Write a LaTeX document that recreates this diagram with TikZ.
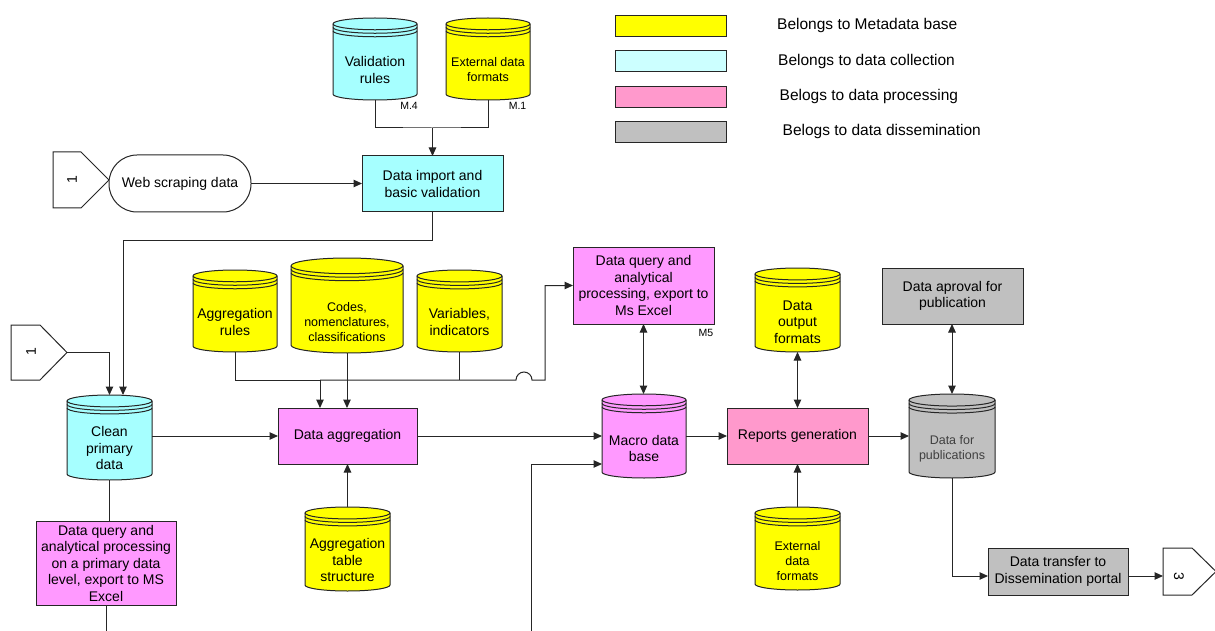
\documentclass[tikz,border=0pt]{standalone}
\usepackage{fontspec}
\setmainfont{Liberation Sans}
\usetikzlibrary{arrows.meta,calc}

\definecolor{metayellow}{HTML}{FFFF00}
\definecolor{collcyan}{HTML}{A6FFFF}
\definecolor{legcyan}{HTML}{CCFFFF}
\definecolor{procmag}{HTML}{FF99FF}
\definecolor{procpink}{HTML}{FF99CC}
\definecolor{dissgray}{HTML}{C0C0C0}

\tikzset{
  f14/.style={font=\fontsize{14}{16.5}\selectfont},
  f125/.style={font=\fontsize{12.5}{14.8}\selectfont},
  flegend/.style={font=\fontsize{15.5}{18}\selectfont},
  fsmall/.style={font=\fontsize{10.5}{12}\selectfont},
  outline/.style={draw=black!85, line width=1pt},
  procbox/.style={outline, rectangle, align=center, inner sep=0pt, outer sep=0pt, f14},
  dbbox/.style={rectangle, inner sep=0pt, outer sep=0pt},
  dbtext/.style={align=center, inner sep=0pt},
  conn/.style={draw=black!85, line width=1pt},
  arr/.style={conn, -{Triangle[length=8.5pt,width=7.5pt]}},
  dblarr/.style={conn, {Triangle[length=8.5pt,width=7.5pt]}-{Triangle[length=8.5pt,width=7.5pt]}},
  legbox/.style={outline, minimum width=111pt, minimum height=21pt, inner sep=0pt, outer sep=0pt},
  legtext/.style={flegend, anchor=west, inner sep=0pt},
  offpage/.style={outline, fill=white},
  tag/.style={fsmall, inner sep=0pt},
}

% Database drum: name, x, y, width, height, fill, text shift, font style, text
\newcommand\dbnode[9]{%
  \node[dbbox, minimum width=#4pt, minimum height=#5pt] (#1) at (#2,#3) {};
  \filldraw[outline, fill=#6] let \p1=(#1.north west), \p2=(#1.south east),
      \n1={(\x2-\x1)/2}, \n2={0.14*\n1} in
    (\x1,\y1-\n2) -- (\x1,\y2+\n2)
    arc[start angle=180, end angle=360, x radius=\n1, y radius=\n2]
    -- (\x2,\y1-\n2)
    arc[start angle=0, end angle=180, x radius=\n1, y radius=\n2] -- cycle;
  \draw[outline] let \p1=(#1.north west), \p2=(#1.south east),
      \n1={(\x2-\x1)/2}, \n2={0.14*\n1} in
    (\x1,\y1-\n2) arc[start angle=180, end angle=360, x radius=\n1, y radius=\n2]
    (\x1,\y1-\n2-3.5pt) arc[start angle=180, end angle=360, x radius=\n1, y radius=\n2]
    (\x1,\y1-\n2-7pt) arc[start angle=180, end angle=360, x radius=\n1, y radius=\n2];
  \node[dbtext, #8] (#1-label) at ([yshift=#7pt]#1.center) {#9};
}

\begin{document}
\begin{tikzpicture}[x=1pt, y=-1pt]
\useasboundingbox (0,0) rectangle (1215,631);

% ---------- legend ----------
\node[legbox, fill=metayellow] (lg1) at (670.5,26.2) {};
\node[legbox, fill=legcyan]    (lg2) at (670.5,61.4) {};
\node[legbox, fill=procpink]   (lg3) at (670.5,96.7) {};
\node[legbox, fill=dissgray]   (lg4) at (670.5,131.7) {};
\node[legtext] (lg1t) at (777,25)  {Belongs to Metadata base};
\node[legtext] (lg2t) at (778,61)  {Belongs to data collection};
\node[legtext] (lg3t) at (779.5,96.5) {Belogs to data processing};
\node[legtext] (lg4t) at (782.5,131) {Belogs to data dissemination};

% ---------- data collection ----------
\dbnode{valr}{375}{59}{84}{82}{collcyan}{-11}{f14}{Validation\\rules}
\dbnode{extf}{488}{59}{84}{82}{metayellow}{-10.5}{f125}{External data\\formats}
\node[tag] (m4) at (409,105.5) {M.4};
\node[tag] (m1) at (517.5,105.5) {M.1};

\node[procbox, fill=collcyan, minimum width=141pt, minimum height=56pt] (imp) at (432.5,184) {Data import and\\basic validation};

\draw[offpage] (53,152) -- (81,152) -- (109,180) -- (81,208) -- (53,208) -- cycle;
\node[f14, rotate=90, inner sep=0pt] (off1a) at (72,180) {1};
\node[procbox, fill=white, rounded corners=28pt, minimum width=142pt, minimum height=57pt] (ws) at (180,183.5) {Web scraping data};

\draw[offpage] (11,325) -- (40,325) -- (67,352.5) -- (40,380) -- (11,380) -- cycle;
\node[f14, rotate=90, inner sep=0pt] (off1b) at (31,352) {1};
\coordinate (off1b-tip) at (67,352.5);

\dbnode{clean}{109.5}{437.5}{85}{85}{collcyan}{-10.5}{f14}{Clean\\primary\\data}
\node[procbox, fill=procmag, minimum width=140pt, minimum height=84pt] (dq1) at (106,563) {Data query and\\analytical processing\\on a primary data\\level, export to MS\\Excel};

% ---------- metadata feeding the aggregation ----------
\dbnode{agr}{235}{311}{84}{82}{metayellow}{-11}{f14}{Aggregation\\rules}
\dbnode{codes}{347}{305.5}{112}{95}{metayellow}{-16.5}{f125}{Codes,\\nomenclatures,\\classifications}
\dbnode{vars}{459.5}{311}{85}{82}{metayellow}{-11}{f14}{Variables,\\indicators}

\node[procbox, fill=procmag, minimum width=139pt, minimum height=56pt] (agg) at (347.5,436) {Data aggregation};
\dbnode{aggts}{347.5}{549}{85}{84}{metayellow}{-11}{f14}{Aggregation\\table\\structure}

% ---------- processing ----------
\node[procbox, fill=procmag, minimum width=141pt, minimum height=77pt] (dq2) at (643.5,285.5) {Data query and\\analytical\\processing, export to\\Ms Excel};
\node[tag] (m5) at (706,332.5) {M5};
\dbnode{macro}{644}{436}{84}{84}{procmag}{-12.5}{f14}{Macro data\\base}

\node[procbox, fill=procpink, minimum width=141pt, minimum height=56pt] (rep) at (797.5,436) {Reports generation};
\dbnode{dof}{797.5}{310}{85}{84}{metayellow}{-12}{f14}{Data\\output\\formats}
\dbnode{extb}{797.5}{548.5}{85}{83}{metayellow}{-12.5}{f125}{External\\data\\formats}

% ---------- dissemination ----------
\node[procbox, fill=dissgray, minimum width=141pt, minimum height=56pt] (apr) at (952.5,296) {Data aproval for\\publication};
\dbnode{dfp}{952}{436}{86}{84}{dissgray}{-12.5}{f125, text=black!75}{Data for\\publications}
\node[procbox, fill=dissgray, minimum width=140pt, minimum height=47pt] (dtr) at (1058,571.5) {Data transfer to\\Dissemination portal};

\draw[offpage] (1163,548) -- (1192,548) -- (1216,571.5) -- (1192,595) -- (1163,595) -- cycle;
\node[f14, rotate=-90, inner sep=0pt] (off3) at (1179,576) {3};
\coordinate (off3in) at (1163,576);

% ---------- connectors ----------
\coordinate (j1) at (432,128);
\draw[conn] (valr.south) |- (j1) -| (extf.south);
\draw[arr] (imp.north |- j1) -- (imp.north);
\draw[arr] (ws.east) -- (ws.east -| imp.west);

\coordinate (turn1) at (123,240);
\draw[arr] (imp.south) |- (turn1) -- (turn1 |- clean.north);
\draw[arr] (off1b-tip) -| (clean.north);

\draw[arr] (clean.east |- agg.west) -- (agg.west);
\draw[conn] (clean.south) -- (clean.south |- dq1.north);
\coordinate (dq1out) at (106,631);
\draw[conn] (dq1.south) -- (dq1out);

\coordinate (bus1) at (320,380);
\draw[arr] (agr.south) |- (bus1) -- (bus1 |- agg.north);
\draw[arr] (codes.south) -- (codes.south |- agg.north);
\draw[conn] (vars.south) -- (vars.south |- bus1);
\draw[arr] (bus1) -- (516,380) arc[start angle=180, end angle=0, radius=8pt] -- (545,380) |- (dq2.west);
\draw[arr] (aggts.north) -- (aggts.north |- agg.south);

\draw[dblarr] (dq2.south) -- (dq2.south |- macro.north);
\draw[arr] (agg.east) -- (agg.east -| macro.west);
\coordinate (mbin) at (531,631);
\draw[arr] (mbin) |- ([yshift=-28pt]macro.west);

\draw[arr] (macro.east) -- (macro.east -| rep.west);
\draw[dblarr] (dof.south) -- (dof.south |- rep.north);
\draw[arr] (extb.north) -- (extb.north |- rep.south);

\draw[arr] (rep.east) -- (rep.east -| dfp.west);
\draw[dblarr] (apr.south -| dfp.north) -- (dfp.north);
\draw[arr] (dfp.south) |- ([yshift=-4.5pt]dtr.west);
\draw[arr] ([yshift=-4.5pt]dtr.east) -- (off3in);
\end{tikzpicture}
\end{document}
